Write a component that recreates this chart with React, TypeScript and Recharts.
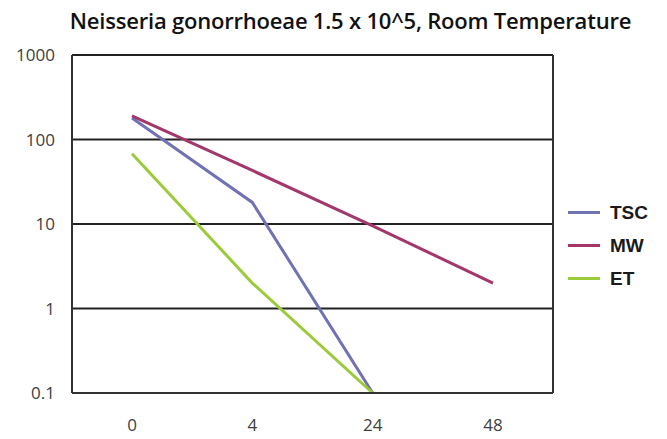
import React from "react";
import { LineChart, Line, XAxis, YAxis, CartesianGrid } from "recharts";

const categories = ["0", "4", "24", "48"];
const tscValues = [180, 18, 0.1, null];
const mwValues = [190, 43, 9.5, 2];
const etValues = [68, 2, 0.1, null];
const yTicks = [0.1, 1, 10, 100, 1000];

const seriesNames = ["TSC", "MW", "ET"];
const seriesColors = ["#7072B2", "#A2376C", "#9BCB3A"];

const data = categories.map((c, i) => ({
  time: c,
  TSC: tscValues[i],
  MW: mwValues[i],
  ET: etValues[i],
}));

const tickFont = { fontFamily: "'Open Sans', sans-serif", fontSize: 17, fill: "#404040" };

const LegendBox = () => (
  <div
    style={{
      position: "absolute",
      left: 568,
      top: 196,
      fontFamily: "'Liberation Sans', Arial, sans-serif",
    }}
  >
    {seriesNames.map((n, i) => (
      <div key={n} style={{ display: "flex", alignItems: "center", height: 33 }}>
        <div style={{ width: 32, height: 3, background: seriesColors[i], marginRight: 10 }} />
        <span style={{ fontWeight: "bold", fontSize: 19, color: "#1a1a1a" }}>{n}</span>
      </div>
    ))}
  </div>
);

export default function App() {
  return (
    <div style={{ position: "relative", width: 667, height: 439, margin: -8, background: "#fff" }}>
      <div
        style={{
          position: "absolute",
          left: 0,
          width: 667,
          top: 5,
          textAlign: "center",
          paddingLeft: 34,
          boxSizing: "border-box",
          fontFamily: "'Open Sans', sans-serif",
          fontWeight: 600,
          fontSize: 22,
          color: "#111",
          letterSpacing: -0.2,
          whiteSpace: "nowrap",
        }}
      >
        Neisseria gonorrhoeae 1.5 x 10^5, Room Temperature
      </div>
      <LineChart
        width={667}
        height={439}
        data={data}
        margin={{ top: 55, right: 113, bottom: 0, left: 0 }}
      >
        <CartesianGrid horizontal vertical={false} stroke="#222" strokeWidth={2} />
        <XAxis
          dataKey="time"
          height={46}
          padding={{ left: 60, right: 60 }}
          tickLine={false}
          tickSize={0}
          tickMargin={26}
          stroke="#333"
          axisLine={{ stroke: "#333", strokeWidth: 2 }}
          tick={tickFont}
        />
        <YAxis
          scale="log"
          domain={[0.1, 1000]}
          ticks={yTicks}
          allowDataOverflow
          width={72}
          tickLine={false}
          tickSize={0}
          tickMargin={17}
          stroke="#333"
          axisLine={{ stroke: "#333", strokeWidth: 2 }}
          tick={tickFont}
          tickFormatter={(v: number) => (v < 1 ? String(v) : String(Math.round(v)))}
        />
        <YAxis
          yAxisId="right"
          orientation="right"
          width={1}
          tick={false}
          tickLine={false}
          stroke="#333"
          axisLine={{ stroke: "#333", strokeWidth: 2 }}
        />
        {seriesNames.map((n, i) => (
          <Line
            key={n}
            type="linear"
            dataKey={n}
            stroke={seriesColors[i]}
            strokeWidth={3}
            dot={false}
            activeDot={false}
            isAnimationActive={false}
            connectNulls={false}
          />
        ))}
      </LineChart>
      <LegendBox />
    </div>
  );
}
